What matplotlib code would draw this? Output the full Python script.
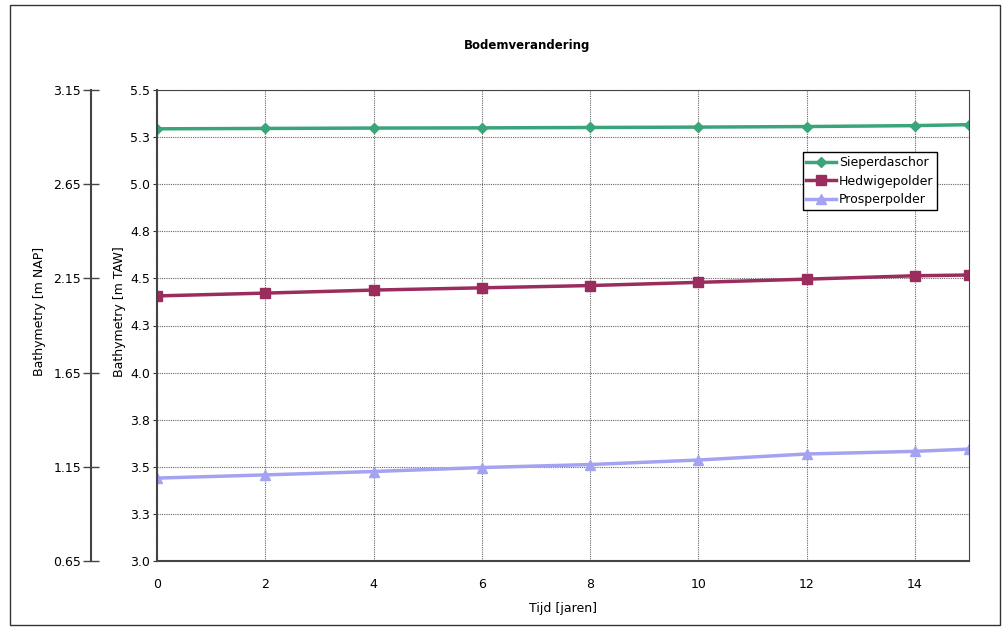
import matplotlib
matplotlib.use("Agg")
import matplotlib.pyplot as plt
from matplotlib.patches import Rectangle

plt.rcParams["font.family"] = ["DejaVu Sans"]
plt.rcParams["font.size"] = 9

# years
years = [0, 2, 4, 6, 8, 10, 12, 14, 15]

# bathymetry in m TAW
sieperdaschor = [5.294, 5.296, 5.298, 5.299, 5.301, 5.303, 5.306, 5.311, 5.316]
hedwigepolder = [4.407, 4.422, 4.438, 4.450, 4.462, 4.479, 4.496, 4.514, 4.518]
prosperpolder = [3.440, 3.457, 3.475, 3.496, 3.512, 3.536, 3.568, 3.582, 3.594]

taw_ticks = [3.0, 3.25, 3.5, 3.75, 4.0, 4.25, 4.5, 4.75, 5.0, 5.25, 5.5]
taw_labels = ["3.0", "3.3", "3.5", "3.8", "4.0", "4.3", "4.5", "4.8", "5.0", "5.3", "5.5"]
nap_ticks = [0.65, 1.15, 1.65, 2.15, 2.65, 3.15]
x_ticks = [0, 2, 4, 6, 8, 10, 12, 14]

fig = plt.figure(figsize=(10.07, 6.28), dpi=100)
fig.patches.append(Rectangle((10 / 1007, 0.004), 990 / 1007, 1 - 5 / 628 - 0.004,
                             transform=fig.transFigure, fill=False,
                             edgecolor="#333333", linewidth=1.0))
ax = fig.add_axes([157 / 1007, 1 - 561 / 628, 812 / 1007, 471 / 628])

# second scale in m NAP, drawn as an extra axis to the left
ax2 = ax.twinx()
ax2.set_ylim(0.65, 3.15)
ax2.set_yticks(nap_ticks)
ax2.set_yticklabels([f"{v:.2f}" for v in nap_ticks])
ax2.yaxis.set_ticks_position("left")
ax2.yaxis.set_label_position("left")
ax2.spines["left"].set_position(("outward", 66 * 72 / 100))
ax2.spines["left"].set_linewidth(1.5)
ax2.spines["left"].set_color("#444444")
for side in ["right", "top", "bottom"]:
    ax2.spines[side].set_visible(False)
ax2.tick_params(axis="y", direction="inout", length=12, width=1.0, color="#444444", pad=1)
ax2.set_ylabel("Bathymetry [m NAP]")
ax2.yaxis.set_label_coords(-0.137, 0.529)

ax.set_zorder(ax2.get_zorder() + 1)
ax.patch.set_visible(False)

ax.plot(years, sieperdaschor, color="#3aa57a", lw=2.5, marker="D", ms=5, label="Sieperdaschor")
ax.plot(years, hedwigepolder, color="#9b2d5e", lw=2.5, marker="s", ms=7, label="Hedwigepolder")
ax.plot(years, prosperpolder, color="#a3a3f2", lw=2.5, marker="^", ms=7, label="Prosperpolder")

ax.set_xlim(0, 15)
ax.set_ylim(3.0, 5.5)
ax.set_xticks(x_ticks)
ax.set_yticks(taw_ticks)
ax.set_yticklabels(taw_labels)
ax.grid(True, color="#666666", linestyle=(0, (1, 1)), linewidth=0.8)
ax.tick_params(axis="y", length=3, color="#333333", pad=2)
ax.tick_params(axis="x", length=0, pad=12)
for s in ax.spines.values():
    s.set_color("#444444")
ax.spines["left"].set_linewidth(1.5)
ax.spines["bottom"].set_linewidth(1.5)
ax.set_xlabel("Tijd [jaren]", labelpad=8)
ax.set_ylabel("Bathymetry [m TAW]")
ax.yaxis.set_label_coords(-0.038, 0.529)

leg = ax.legend(loc="upper right", bbox_to_anchor=(0.9606, 0.868), borderaxespad=0,
                frameon=True, fancybox=False, edgecolor="black", borderpad=0.3,
                handlelength=2.4, handletextpad=0.2, labelspacing=0.45, framealpha=1)
leg.get_frame().set_linewidth(1.0)

fig.text(527 / 1007, 1 - 45 / 628, "Bodemverandering", ha="center", va="center",
         fontsize=8.5, fontweight="bold")

fig.savefig("out.png", dpi=100)
